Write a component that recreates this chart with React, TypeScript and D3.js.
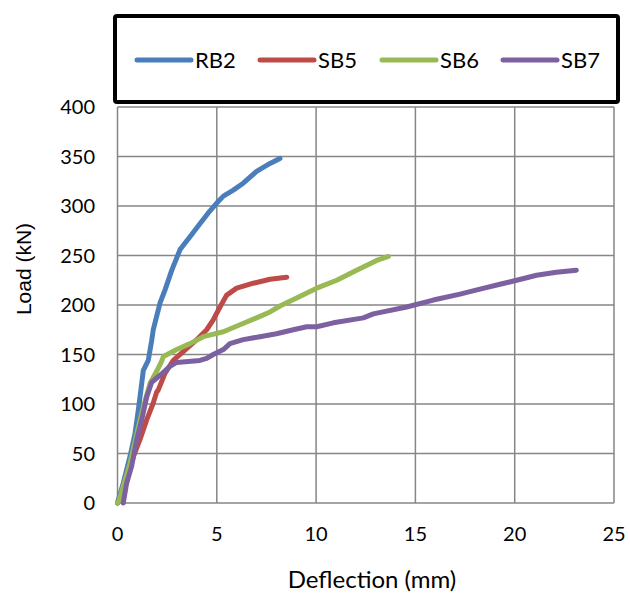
import React from 'react';
import * as d3 from 'd3';

// deflection (mm) / load (kN)
const rb2X = [0, 0.29, 0.63, 0.88, 1.05, 1.22, 1.3, 1.55, 1.72, 1.8, 2.14, 2.39, 2.73, 3.15, 3.65, 4.15, 4.57, 5.0, 5.33, 5.83, 6.33, 7.0, 7.68, 8.18];
const rb2Y = [0, 20, 47, 70, 94, 121, 134, 144, 164, 175, 202, 215, 235, 256, 269, 282, 293, 303, 310, 316, 323, 335, 343, 348];

const sb5X = [0, 0.38, 0.8, 1.13, 1.47, 1.8, 1.97, 2.05, 2.39, 2.81, 3.31, 3.99, 4.49, 4.82, 5.16, 5.5, 6.0, 6.84, 7.68, 8.52];
const sb5Y = [0, 16, 47, 64, 84, 101, 112, 114, 131, 144, 153, 165, 175, 185, 198, 210, 217, 222, 226, 228];

const sb6X = [0, 0.09, 0.63, 0.97, 1.3, 1.64, 1.97, 2.22, 2.31, 2.98, 3.65, 4.32, 5.33, 6.17, 7.0, 7.68, 8.18, 9.02, 10.03, 11.04, 12.04, 13.05, 13.64];
const sb6Y = [0, 3, 40, 70, 97, 121, 133, 143, 148, 155, 161, 168, 173, 180, 187, 193, 199, 207, 217, 225, 235, 245, 249];

const sb7X = [0.29, 0.46, 0.71, 0.97, 1.22, 1.47, 1.72, 2.14, 2.64, 2.98, 4.15, 4.49, 4.82, 5.33, 5.66, 6.33, 7.17, 8.0, 8.85, 9.53, 10.03, 10.87, 12.38, 12.88, 14.56, 15.9, 17.25, 18.25, 19.26, 20.1, 21.1, 22.1, 23.1];
const sb7Y = [0, 20, 37, 64, 84, 107, 122, 129, 138, 142, 144, 146, 150, 155, 161, 165, 168, 171, 175, 178, 178, 182, 187, 191, 198, 205, 211, 216, 221, 225, 230, 233, 235];

const seriesNames = ['RB2', 'SB5', 'SB6', 'SB7'];
const seriesColors = ['#4a7ebb', '#be4b48', '#98b954', '#7d60a0'];
const xTicks = [0, 5, 10, 15, 20, 25];
const yTicks = [0, 50, 100, 150, 200, 250, 300, 350, 400];

const width = 630;
const height = 594;
const plot = { left: 117.5, right: 614, top: 107, bottom: 503 };
const font = 'Lato, "Open Sans", sans-serif';

export default function App() {
  const x = d3.scaleLinear().domain([0, 25]).range([plot.left, plot.right]);
  const y = d3.scaleLinear().domain([0, 400]).range([plot.bottom, plot.top]);

  const series = [
    { xs: rb2X, ys: rb2Y },
    { xs: sb5X, ys: sb5Y },
    { xs: sb6X, ys: sb6Y },
    { xs: sb7X, ys: sb7Y },
  ];

  const line = d3.line<[number, number]>()
    .x(d => x(d[0]))
    .y(d => y(d[1]));

  // legend entries positions
  const legendStarts = [137, 260, 382, 503];

  return (
    <svg width={width} height={height} style={{ position: 'absolute', left: 0, top: 0, background: '#fff' }}>
      <rect x={0} y={0} width={width} height={height} fill="#fff" />

      {/* grid */}
      {xTicks.map(t => (
        <line key={'gx' + t} x1={x(t)} x2={x(t)} y1={plot.top} y2={plot.bottom} stroke="#868686" strokeWidth={1.5} />
      ))}
      {yTicks.map(t => (
        <line key={'gy' + t} x1={plot.left} x2={plot.right} y1={y(t)} y2={y(t)} stroke="#868686" strokeWidth={1.5} />
      ))}

      {/* tick labels */}
      {yTicks.map(t => (
        <text key={'ty' + t} x={95} y={y(t)} dy="0.36em" textAnchor="end" fontSize={20} fontFamily={font} fill="#000">
          {t}
        </text>
      ))}
      {xTicks.map(t => (
        <text key={'tx' + t} x={x(t)} y={534} dy="0.36em" textAnchor="middle" fontSize={20} fontFamily={font} fill="#000">
          {t}
        </text>
      ))}

      <text x={372} y={588} textAnchor="middle" fontSize={24} fontFamily={font} fill="#000">Deflection (mm)</text>
      <text transform="translate(31,269) rotate(-90)" textAnchor="middle" fontSize={21} fontFamily='"Liberation Sans", Arial, sans-serif' fill="#000">
        Load (kN)
      </text>

      {/* curves */}
      {series.map((s, i) => (
        <path
          key={seriesNames[i]}
          d={line(s.xs.map((v, j) => [v, s.ys[j]] as [number, number])) || ''}
          fill="none"
          stroke={seriesColors[i]}
          strokeWidth={5}
          strokeLinecap="round"
          strokeLinejoin="round"
        />
      ))}

      {/* legend */}
      <rect x={115} y={16} width={503} height={86} rx={2} fill="#fff" stroke="#000" strokeWidth={4} />
      {seriesNames.map((name, i) => (
        <g key={'lg' + name}>
          <line x1={legendStarts[i]} x2={legendStarts[i] + 54} y1={60} y2={60} stroke={seriesColors[i]} strokeWidth={5} strokeLinecap="round" />
          <text x={legendStarts[i] + 58} y={60} dy="0.36em" fontSize={22} fontFamily={font} fill="#000">{name}</text>
        </g>
      ))}
    </svg>
  );
}
